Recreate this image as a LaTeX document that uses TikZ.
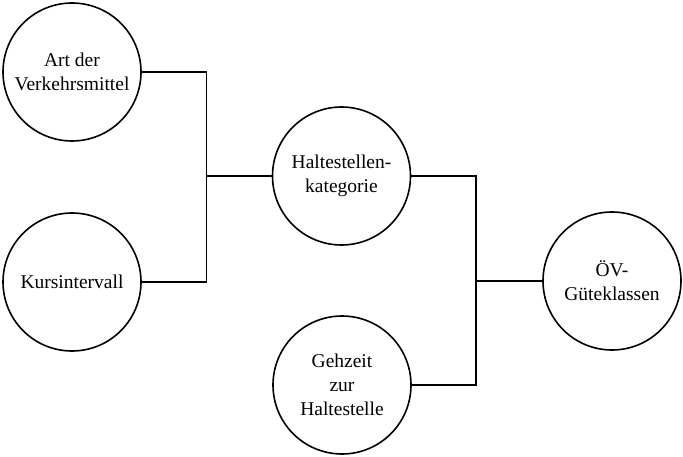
\documentclass[tikz,border=0pt]{standalone}
\usepackage{fontspec}
\setmainfont{Liberation Serif}
\begin{document}
\begin{tikzpicture}[x=1pt,y=-1pt,
  ring/.style={circle,draw,line width=1.6pt,minimum size=138pt,inner sep=0pt,align=center,font=\fontsize{19.5}{24}\selectfont},
  link/.style={line width=1.6pt}]
\useasboundingbox (0,0) rectangle (683,457);
\node[ring] (art) at (72,72) {Art der\\Verkehrsmittel};
\node[ring] (kurs) at (72,282) {Kursintervall};
\node[ring] (halt) at (341.5,176) {Haltestellen-\\kategorie};
\node[ring] (geh) at (342,385) {Gehzeit\\zur\\Haltestelle};
\node[ring] (oev) at (612,281) {ÖV-\\Güteklassen};
\coordinate (j1) at (206.5,176);
\coordinate (j2) at (476,281);
\draw[link] (art.east) -| (j1) |- (kurs.east);
\draw[link] (j1) -- (halt.west);
\draw[link] (halt.east) -| (j2) |- (geh.east);
\draw[link] (j2) -- (oev.west);
\end{tikzpicture}
\end{document}
